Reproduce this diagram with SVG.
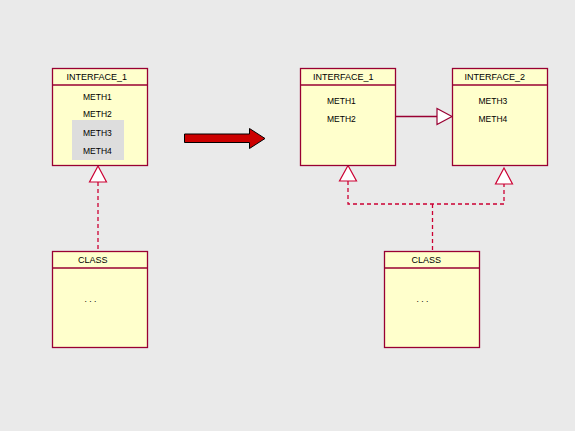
<svg xmlns="http://www.w3.org/2000/svg" width="575" height="431" viewBox="0 0 575 431">
<style>
.box{fill:#FFFFCC;stroke:#990033;stroke-width:1.3}
.sep{stroke:#990033;stroke-width:1.3}
.h{font-family:"Liberation Sans",Arial,sans-serif;font-size:9px;fill:#000}
.m{font-family:"Liberation Sans",Arial,sans-serif;font-size:8.5px;fill:#000}
.dash{fill:none;stroke:#CC0033;stroke-width:1.3;stroke-dasharray:4 3}
.solid{fill:none;stroke:#990033;stroke-width:1.3}
.tri{fill:#fff;stroke:#CC0033;stroke-width:1.2}
</style>
<rect width="575" height="431" fill="#EAEAEA"/>
<g id="connectors">
<path class="dash" d="M98 182 V252"/>
<polygon class="tri" points="98,166 89.5,182 106.5,182"/>
<path class="solid" d="M396 116.5 H437"/>
<polygon class="tri" points="452,116.5 437,108.5 437,124.5" style="stroke:#990033"/>
<path class="dash" d="M348 181 V204 H504 V184 M432.5 204 V252"/>
<polygon class="tri" points="348,165.5 339.5,181 356.5,181"/>
<polygon class="tri" points="504,168 495.5,184 512.5,184"/>
</g>
<g id="transform-arrow">
<polygon points="184.5,134 249.5,134 249.5,128.5 265,138.5 249.5,148.5 249.5,142.5 184.5,142.5" fill="#CC0000" stroke="#000" stroke-width="1"/>
</g>
<g id="left-interface1">
<rect class="box" x="52.5" y="68.5" width="95" height="97"/>
<line class="sep" x1="52.5" y1="85" x2="147.5" y2="85"/>
<text class="h" x="66.5" y="80">INTERFACE_1</text>
<rect x="72" y="120" width="52" height="40" fill="#DDDDDD"/>
<text class="m" x="83" y="99.5">METH1</text>
<text class="m" x="83" y="117">METH2</text>
<text class="m" x="83" y="135.5">METH3</text>
<text class="m" x="83" y="153.5">METH4</text>
</g>
<g id="left-class">
<rect class="box" x="52.5" y="251.5" width="95" height="96"/>
<line class="sep" x1="52.5" y1="268" x2="147.5" y2="268"/>
<text class="h" x="78" y="263">CLASS</text>
<text class="m" x="84.5" y="302">. . .</text>
</g>
<g id="right-interface1">
<rect class="box" x="300.5" y="68.5" width="95" height="97"/>
<line class="sep" x1="300.5" y1="85" x2="395.5" y2="85"/>
<text class="h" x="313" y="80">INTERFACE_1</text>
<text class="m" x="327" y="103.5">METH1</text>
<text class="m" x="327" y="122">METH2</text>
</g>
<g id="right-interface2">
<rect class="box" x="452.5" y="68.5" width="95" height="97"/>
<line class="sep" x1="452.5" y1="85" x2="547.5" y2="85"/>
<text class="h" x="464.5" y="80">INTERFACE_2</text>
<text class="m" x="478.5" y="103.5">METH3</text>
<text class="m" x="478.5" y="122">METH4</text>
</g>
<g id="right-class">
<rect class="box" x="384.5" y="251.5" width="95" height="96"/>
<line class="sep" x1="384.5" y1="268" x2="479.5" y2="268"/>
<text class="h" x="411.5" y="263">CLASS</text>
<text class="m" x="416.5" y="302">. . .</text>
</g>
</svg>
